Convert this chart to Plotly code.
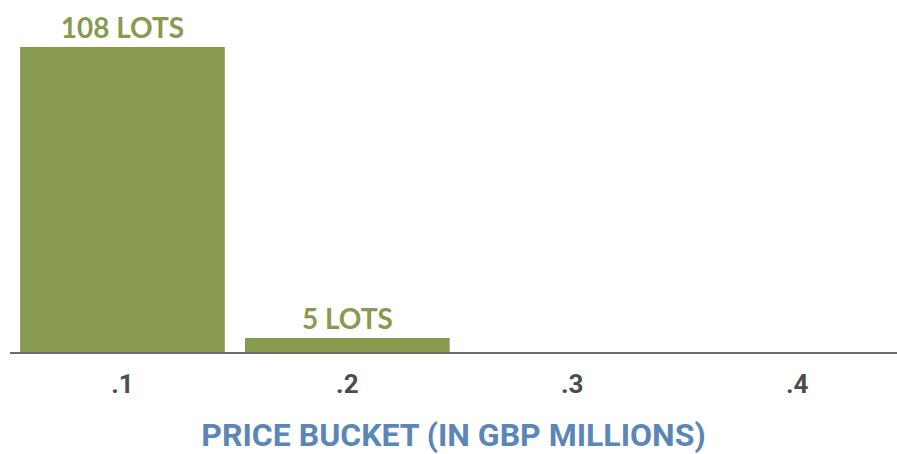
import plotly.graph_objects as go

categories = [".1", ".2", ".3", ".4"]
lots = [108, 5, 0, 0]
labels = [f"{v} LOTS" if v else "" for v in lots]

green = "#879A4F"

fig = go.Figure(go.Bar(
    x=categories, y=lots, text=labels,
    textposition="outside", cliponaxis=False,
    textfont=dict(family="Lato, sans-serif", size=28, color=green, weight="bold"),
    marker=dict(color=green, line=dict(width=0)),
))

fig.update_layout(
    width=897, height=454,
    margin=dict(l=10, r=0, t=10, b=102),
    paper_bgcolor="white", plot_bgcolor="white",
    bargap=0.09, showlegend=False,
    xaxis=dict(
        type="category", range=[-0.5, 3.444],
        showline=True, linecolor="#6b6e73", linewidth=2,
        ticks="", showgrid=False, ticklabelstandoff=8,
        tickfont=dict(family="Roboto, sans-serif", size=26, color="#4a4d52", weight="bold"),
        title=dict(text="PRICE BUCKET (IN GBP MILLIONS)", standoff=29,
                   font=dict(family="Roboto, sans-serif", size=32, color="#5b86b8", weight="bold")),
    ),
    yaxis=dict(range=[0, 121.1], visible=False, showgrid=False),
)

fig.write_html("out.html", config={"displayModeBar": False},
               post_script="document.body.style.margin='0';")
